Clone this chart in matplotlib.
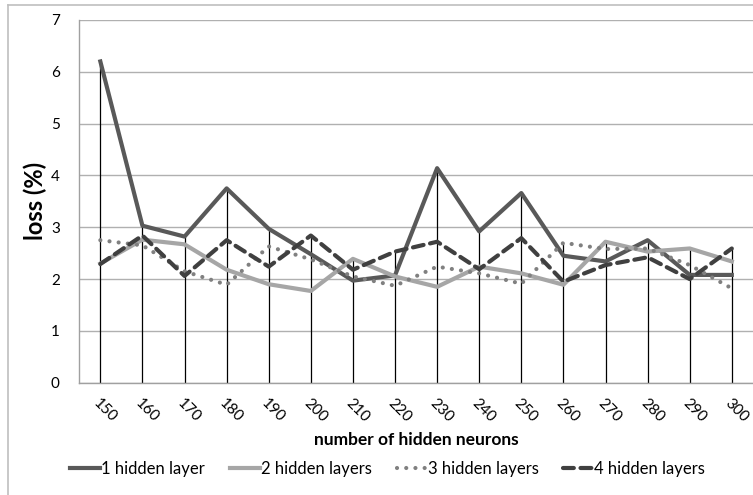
import numpy as np
import matplotlib
matplotlib.use("Agg")
import matplotlib.pyplot as plt
from matplotlib.lines import Line2D

plt.rcParams["font.family"] = ["Lato", "DejaVu Sans"]

# Data
neurons = [150, 160, 170, 180, 190, 200, 210, 220, 230, 240, 250, 260, 270, 280, 290, 300]
loss_1_layer = [6.20, 3.03, 2.82, 3.75, 2.97, 2.48, 1.97, 2.07, 4.14, 2.92, 3.66, 2.45, 2.34, 2.75, 2.08, 2.08]
loss_2_layers = [2.30, 2.76, 2.67, 2.18, 1.90, 1.77, 2.39, 2.05, 1.85, 2.24, 2.11, 1.89, 2.72, 2.53, 2.59, 2.34]
loss_3_layers = [2.75, 2.65, 2.15, 1.89, 2.63, 2.38, 2.05, 1.87, 2.24, 2.11, 1.91, 2.70, 2.58, 2.59, 2.27, 1.82]
loss_4_layers = [2.29, 2.84, 2.06, 2.75, 2.24, 2.84, 2.18, 2.53, 2.72, 2.19, 2.79, 1.95, 2.27, 2.42, 2.00, 2.59]

labels = ["1 hidden layer", "2 hidden layers", "3 hidden layers", "4 hidden layers"]
series = [loss_1_layer, loss_2_layers, loss_3_layers, loss_4_layers]
styles = [
  dict(color="#595959", linestyle="-", lw=3.0),
  dict(color="#a6a6a6", linestyle="-", lw=3.0),
  dict(color="#808080", linestyle=(0, (0.01, 2.2)), lw=3.0, dash_capstyle="round"),
  dict(color="#404040", linestyle=(0, (2.6, 1.6)), lw=3.0, dash_capstyle="round"),
]

fig = plt.figure(figsize=(7.53, 4.95), dpi=100)
ax = fig.add_axes([0.1053, 0.2269, 0.8945, 0.7327])

x = np.arange(len(neurons))

# Drop lines from the highest point of each category down to zero
top = np.max(np.array(series), axis=0)
ax.vlines(x, 0, top, color="black", lw=0.9, zorder=2)

for vals, label, st in zip(series, labels, styles):
  ax.plot(x, vals, label=label, zorder=3, **st)

ax.set_xlim(-0.5, len(neurons) - 0.5)
ax.set_ylim(0, 7)
ax.set_yticks(range(0, 8))
ax.grid(axis="y", color="#b0b0b0", lw=1.0, zorder=0)
ax.set_axisbelow(True)
for s in ["top", "right"]:
  ax.spines[s].set_visible(False)
for s in ["left", "bottom"]:
  ax.spines[s].set_color("#a0a0a0")
  ax.spines[s].set_linewidth(1.0)
ax.tick_params(axis="both", length=0, labelsize=11, colors="#000000")
ax.tick_params(axis="y", pad=14)

ax.set_xticks(x)
ax.set_xticklabels([str(n) for n in neurons], rotation=-45, ha="left",
                   va="top", rotation_mode="anchor")
ax.tick_params(axis="x", pad=10)

ax.set_xlabel("number of hidden neurons", fontsize=12.5, fontweight="bold", labelpad=5)
ax.set_ylabel("loss (%)", fontsize=17, fontweight="bold", labelpad=3)

handles = [Line2D([0], [0], **st) for st in styles]
fig.legend(handles, labels, loc="center", bbox_to_anchor=(0.515, 0.053), ncol=4,
           frameon=False, fontsize=12, handlelength=1.8, handletextpad=0.05,
           columnspacing=1.5)

# Chart area border (left and top edges visible)
fig.add_artist(Line2D([0.0106, 0.0106], [0.0, 0.990], color="#bfbfbf", lw=1.2))
fig.add_artist(Line2D([0.0106, 1.0], [0.990, 0.990], color="#bfbfbf", lw=1.2))

fig.savefig("out.png", dpi=100)
